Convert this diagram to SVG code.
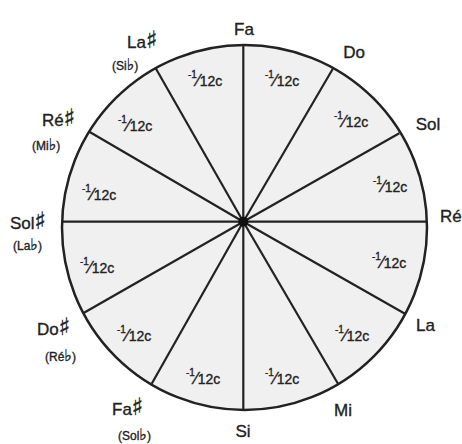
<svg xmlns="http://www.w3.org/2000/svg" width="462" height="444" viewBox="0 0 462 444">
<style>
text{font-family:"Liberation Sans","DejaVu Sans",sans-serif;fill:#222;stroke:#222;stroke-width:0.35}
.n{font-size:17px}
.s{font-size:12px}
.f{font-size:14px}
.sup{font-size:10px}
.sl{font-size:17px}
.sh{font-family:"DejaVu Sans",sans-serif;font-size:24px}
.fl{font-family:"DejaVu Sans",sans-serif;font-size:16px}
.spoke{stroke:#222;stroke-width:2.2;fill:none}
</style>
<rect width="462" height="444" fill="#fff"/>
<g id="wheel">
<circle cx="244.5" cy="227.5" r="182.5" fill="#f0f0f0" stroke="#222" stroke-width="2.5"/>
</g>
<g id="connectors">
<line class="spoke" x1="243.3" y1="221.7" x2="243.3" y2="45"/>
<line class="spoke" x1="243.3" y1="221.7" x2="332.7" y2="69"/>
<line class="spoke" x1="243.3" y1="221.7" x2="399.3" y2="133.3"/>
<line class="spoke" x1="243.3" y1="221.7" x2="427" y2="221.7"/>
<line class="spoke" x1="243.3" y1="221.7" x2="405" y2="313.7"/>
<line class="spoke" x1="243.3" y1="221.7" x2="338.3" y2="384.3"/>
<line class="spoke" x1="243.3" y1="221.7" x2="243.3" y2="410"/>
<line class="spoke" x1="243.3" y1="221.7" x2="151.7" y2="383.7"/>
<line class="spoke" x1="243.3" y1="221.7" x2="84" y2="312.7"/>
<line class="spoke" x1="243.3" y1="221.7" x2="62" y2="221.7"/>
<line class="spoke" x1="243.3" y1="221.7" x2="89.3" y2="131.7"/>
<line class="spoke" x1="243.3" y1="221.7" x2="155.7" y2="68.3"/>
<circle cx="243.3" cy="221.7" r="5" fill="#111"/>
</g>
<g id="notes">
<g id="n-fa"><text class="n" x="244" y="35" text-anchor="middle">Fa</text></g>
<g id="n-do"><text class="n" x="354" y="58" text-anchor="middle">Do</text></g>
<g id="n-sol"><text class="n" x="428" y="130" text-anchor="middle">Sol</text></g>
<g id="n-re"><text class="n" x="440" y="222">Ré</text></g>
<g id="n-la"><text class="n" x="416" y="331">La</text></g>
<g id="n-mi"><text class="n" x="334" y="416">Mi</text></g>
<g id="n-si"><text class="n" x="243" y="437" text-anchor="middle">Si</text></g>
<g id="n-fas"><text class="n" x="112" y="415">Fa<tspan class="sh">♯</tspan></text><text class="s" x="118" y="440">(Sol<tspan class="fl">♭</tspan>)</text></g>
<g id="n-dos"><text class="n" x="37" y="335">Do<tspan class="sh">♯</tspan></text><text class="s" x="45" y="361">(Ré<tspan class="fl">♭</tspan>)</text></g>
<g id="n-sols"><text class="n" x="10" y="229">Sol<tspan class="sh">♯</tspan></text><text class="s" x="13" y="250">(La<tspan class="fl">♭</tspan>)</text></g>
<g id="n-res"><text class="n" x="42" y="126">Ré<tspan class="sh">♯</tspan></text><text class="s" x="32" y="150">(Mi<tspan class="fl">♭</tspan>)</text></g>
<g id="n-las"><text class="n" x="127" y="48">La<tspan class="sh">♯</tspan></text><text class="s" x="112" y="70">(Si<tspan class="fl">♭</tspan>)</text></g>
</g>
<g id="sectors">
<text class="f" x="265" y="86"><tspan class="sup" dy="-8">-1</tspan><tspan class="sl" dy="8">⁄</tspan>12c</text>
<text class="f" x="334" y="127"><tspan class="sup" dy="-8">-1</tspan><tspan class="sl" dy="8">⁄</tspan>12c</text>
<text class="f" x="373" y="192"><tspan class="sup" dy="-8">-1</tspan><tspan class="sl" dy="8">⁄</tspan>12c</text>
<text class="f" x="372" y="268"><tspan class="sup" dy="-8">-1</tspan><tspan class="sl" dy="8">⁄</tspan>12c</text>
<text class="f" x="335" y="341"><tspan class="sup" dy="-8">-1</tspan><tspan class="sl" dy="8">⁄</tspan>12c</text>
<text class="f" x="265" y="384"><tspan class="sup" dy="-8">-1</tspan><tspan class="sl" dy="8">⁄</tspan>12c</text>
<text class="f" x="186" y="384"><tspan class="sup" dy="-8">-1</tspan><tspan class="sl" dy="8">⁄</tspan>12c</text>
<text class="f" x="117" y="341"><tspan class="sup" dy="-8">-1</tspan><tspan class="sl" dy="8">⁄</tspan>12c</text>
<text class="f" x="80" y="273"><tspan class="sup" dy="-8">-1</tspan><tspan class="sl" dy="8">⁄</tspan>12c</text>
<text class="f" x="82" y="200"><tspan class="sup" dy="-8">-1</tspan><tspan class="sl" dy="8">⁄</tspan>12c</text>
<text class="f" x="118" y="131"><tspan class="sup" dy="-8">-1</tspan><tspan class="sl" dy="8">⁄</tspan>12c</text>
<text class="f" x="188" y="86"><tspan class="sup" dy="-8">-1</tspan><tspan class="sl" dy="8">⁄</tspan>12c</text>
</g>
</svg>
